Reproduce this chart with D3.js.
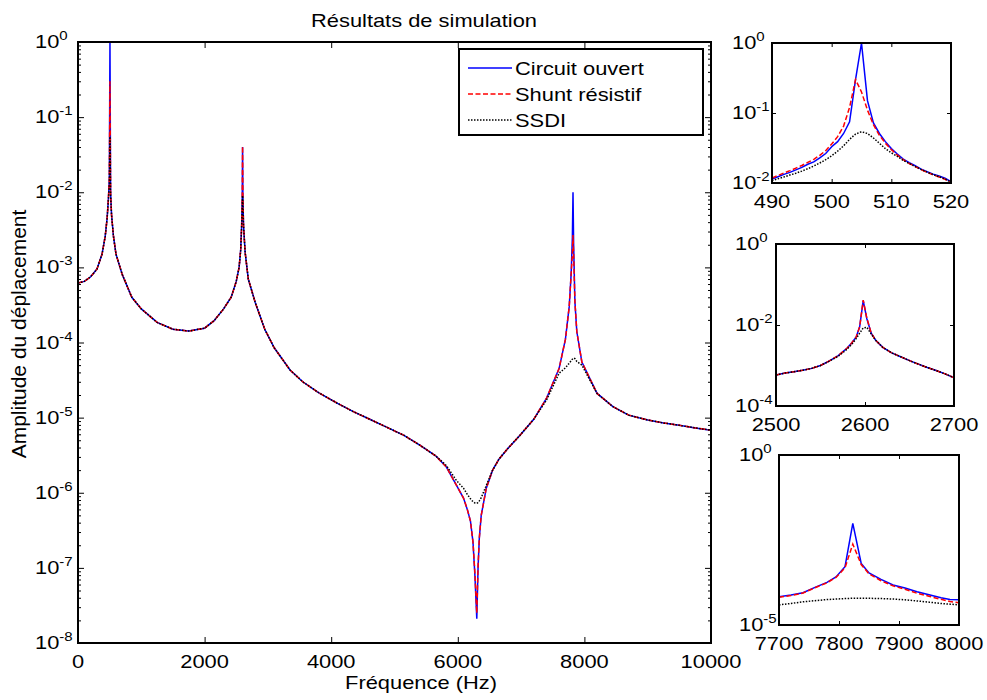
<!DOCTYPE html>
<html>
<head>
<meta charset="utf-8">
<script src="https://cdn.jsdelivr.net/npm/d3@7"></script>
<style>
body { margin: 0; background: #fff; }
text { font-family: "Liberation Sans", Arial, sans-serif; fill: #000; }
</style>
</head>
<body>
<svg id="chart" width="987" height="700"></svg>
<script>
// ---- data ----
var seriesNames = ["Circuit ouvert", "Shunt résistif", "SSDI"];

var mainFreq = [0,100,200,300,380,430,460,480,495,505,515,530,560,600,700,850,1000,1250,1500,1750,2000,2150,2300,2420,2500,2545,2570,2585,2595,2600,2605,2615,2640,2690,2800,2950,3100,3350,3550,3800,4100,4350,4600,4900,5150,5400,5650,5820,5980,6090,6150,6200,6240,6270,6300,6320,6340,6370,6450,6550,6650,6780,6980,7200,7400,7600,7700,7760,7790,7810,7820,7830,7850,7880,7960,8200,8450,8700,9000,9250,9500,9750,10000];
var mainOpen = [6.2e-4,6.5e-4,7.5e-4,9.5e-4,1.5e-3,2.6e-3,4.5e-3,8e-3,1.5e-2,1.0,1.0e-2,5e-3,2.6e-3,1.5e-3,8e-4,4e-4,2.8e-4,1.85e-4,1.5e-4,1.42e-4,1.55e-4,1.95e-4,2.8e-4,4.0e-4,6.5e-4,1.0e-3,1.7e-3,3.5e-3,9e-3,0.04,9e-3,3.6e-3,1.6e-3,7e-4,3.4e-4,1.5e-4,8.5e-5,4.3e-5,3.0e-5,2.15e-5,1.55e-5,1.2e-5,9.6e-6,7.3e-6,5.8e-6,4.3e-6,3.1e-6,2.2e-6,1.25e-6,8.5e-7,6e-7,4.2e-7,2.2e-7,8e-8,2.1e-8,1e-7,2.5e-7,5e-7,1.15e-6,2.0e-6,2.8e-6,3.8e-6,5.8e-6,9.5e-6,1.8e-5,4.5e-5,1.1e-4,3e-4,8e-4,2.5e-3,1.0e-2,2e-3,3.5e-4,1.4e-4,5.5e-5,2.1e-5,1.4e-5,1.08e-5,9.3e-6,8.5e-6,7.9e-6,7.3e-6,6.8e-6];
var mainShunt = [6.2e-4,6.5e-4,7.5e-4,9.5e-4,1.5e-3,2.6e-3,4.5e-3,8e-3,1.5e-2,0.3,1.0e-2,5e-3,2.6e-3,1.5e-3,8e-4,4e-4,2.8e-4,1.85e-4,1.5e-4,1.42e-4,1.55e-4,1.95e-4,2.8e-4,4.0e-4,6.5e-4,1.0e-3,1.7e-3,3.5e-3,9e-3,0.041,9e-3,3.6e-3,1.6e-3,7e-4,3.4e-4,1.5e-4,8.5e-5,4.3e-5,3.0e-5,2.15e-5,1.55e-5,1.2e-5,9.6e-6,7.3e-6,5.8e-6,4.3e-6,3.1e-6,2.2e-6,1.25e-6,8.5e-7,6e-7,4.2e-7,2.2e-7,8.5e-8,2.5e-8,1.05e-7,2.5e-7,5e-7,1.15e-6,2.0e-6,2.8e-6,3.8e-6,5.8e-6,9.5e-6,1.8e-5,4.5e-5,1.1e-4,3e-4,8e-4,1.5e-3,2.7e-3,1.5e-3,3.5e-4,1.4e-4,5.5e-5,2.1e-5,1.4e-5,1.08e-5,9.3e-6,8.5e-6,7.9e-6,7.3e-6,6.8e-6];
var mainSsdi = [6.2e-4,6.5e-4,7.5e-4,9.5e-4,1.5e-3,2.6e-3,4.5e-3,8e-3,1.3e-2,0.055,9e-3,5e-3,2.6e-3,1.5e-3,8e-4,4e-4,2.8e-4,1.85e-4,1.5e-4,1.42e-4,1.55e-4,1.95e-4,2.8e-4,4.0e-4,6.5e-4,1.0e-3,1.7e-3,3.5e-3,6e-3,9e-3,6.5e-3,3.6e-3,1.6e-3,7e-4,3.4e-4,1.5e-4,8.5e-5,4.3e-5,3.0e-5,2.15e-5,1.55e-5,1.2e-5,9.6e-6,7.3e-6,5.8e-6,4.3e-6,3.1e-6,2.3e-6,1.45e-6,1.15e-6,9.5e-7,8.3e-7,7.6e-7,7.3e-7,7.2e-7,7.4e-7,7.8e-7,8.6e-7,1.25e-6,2.0e-6,2.8e-6,3.8e-6,5.8e-6,9.5e-6,1.7e-5,3.9e-5,4.6e-5,5.3e-5,5.7e-5,6e-5,6.1e-5,6.2e-5,6.1e-5,5.6e-5,5.0e-5,2.1e-5,1.4e-5,1.08e-5,9.3e-6,8.5e-6,7.9e-6,7.3e-6,6.8e-6];
var mainXTicks = [0,2000,4000,6000,8000,10000];
var mainYTicks = [1,1e-1,1e-2,1e-3,1e-4,1e-5,1e-6,1e-7,1e-8];

var in1Freq = [490,491,492,493,494,495,496,497,498,499,500,501,502,503,504,505,506,507,508,509,510,511,512,513,514,515,516,517,518,519,520];
var in1Open = [0.0114,0.0123,0.0133,0.0142,0.0154,0.0167,0.0185,0.020,0.0228,0.0264,0.033,0.039,0.051,0.075,0.30,1.0,0.15,0.072,0.051,0.039,0.031,0.026,0.022,0.0195,0.0177,0.0158,0.0145,0.0134,0.0126,0.0117,0.0105];
var in1Shunt = [0.0118,0.0128,0.0139,0.015,0.0163,0.0178,0.0197,0.0218,0.0248,0.029,0.036,0.046,0.065,0.12,0.30,0.20,0.11,0.068,0.048,0.037,0.030,0.025,0.0215,0.019,0.0172,0.0155,0.0142,0.0131,0.0122,0.0113,0.0102];
var in1Ssdi = [0.0108,0.0115,0.0122,0.013,0.0138,0.0148,0.016,0.0175,0.0193,0.0215,0.0245,0.0285,0.034,0.042,0.05,0.054,0.051,0.044,0.037,0.031,0.027,0.024,0.021,0.019,0.0172,0.0156,0.0143,0.0132,0.0123,0.0114,0.0103];
var in1XTicks = [490,500,510,520];
var in1YTicks = [1,1e-1,1e-2];

var in2Freq = [2500,2510,2520,2530,2540,2550,2560,2570,2580,2585,2590,2594,2598,2602,2607,2612,2620,2630,2640,2650,2660,2670,2680,2690,2700];
var in2Open = [5.8e-4,6.5e-4,7.0e-4,7.6e-4,8.5e-4,1.0e-3,1.3e-3,1.75e-3,2.7e-3,3.6e-3,5.0e-3,9.0e-3,4.0e-2,1.45e-2,6.3e-3,4.2e-3,2.8e-3,2.05e-3,1.65e-3,1.32e-3,1.08e-3,8.9e-4,7.5e-4,6.2e-4,5.0e-4];
var in2Shunt = [5.8e-4,6.5e-4,7.0e-4,7.6e-4,8.5e-4,1.0e-3,1.3e-3,1.75e-3,2.7e-3,3.6e-3,5.0e-3,9.0e-3,4.1e-2,1.5e-2,6.3e-3,4.2e-3,2.8e-3,2.05e-3,1.65e-3,1.32e-3,1.08e-3,8.9e-4,7.5e-4,6.2e-4,5.0e-4];
var in2Ssdi = [5.8e-4,6.5e-4,7.0e-4,7.6e-4,8.5e-4,1.0e-3,1.28e-3,1.7e-3,2.55e-3,3.3e-3,4.6e-3,6.3e-3,8.5e-3,8.8e-3,6.0e-3,4.2e-3,2.8e-3,2.05e-3,1.65e-3,1.32e-3,1.08e-3,8.9e-4,7.5e-4,6.2e-4,5.0e-4];
var in2XTicks = [2500,2600,2700];
var in2YTicks = [1,1e-2,1e-4];

var in3Freq = [7700,7720,7740,7760,7780,7795,7810,7823,7837,7850,7870,7890,7910,7930,7950,7970,7985,8000];
var in3Open = [6.8e-5,7.6e-5,8.9e-5,1.28e-4,1.8e-4,2.6e-4,5.2e-4,9.8e-3,6.5e-4,3.4e-4,2.2e-4,1.5e-4,1.22e-4,9.5e-5,7.8e-5,6.3e-5,5.6e-5,5.5e-5];
var in3Shunt = [6.5e-5,7.4e-5,8.7e-5,1.25e-4,1.75e-4,2.5e-4,4.8e-4,2.4e-3,6.0e-4,3.2e-4,2.0e-4,1.42e-4,1.12e-4,8.6e-5,7.0e-5,5.7e-5,4.9e-5,4.5e-5];
var in3Ssdi = [3.9e-5,4.3e-5,4.8e-5,5.2e-5,5.6e-5,5.8e-5,6.0e-5,6.1e-5,6.1e-5,6.1e-5,6.0e-5,5.8e-5,5.5e-5,5.1e-5,4.7e-5,4.3e-5,4.1e-5,3.9e-5];
var in3XTicks = [7700,7800,7900,8000];
var in3YTicks = [1,1e-5];

// ---- drawing ----
var SX = 1.25;   // the reference text is stretched sideways
var FS = 17.5;
var svg = d3.select("#chart");
svg.append("rect").attr("width", 987).attr("height", 700).attr("fill", "#fff");

var styles = [
	{color: "#0000ff", dash: null},
	{color: "#ff0000", dash: "5,2.5"},
	{color: "#000000", dash: "1.5,1.5"}
];

function putText(sel, x, y, str, anchor, rot, sx, fs) {
	var t = sel.append("text")
		.attr("transform", "translate(" + x + "," + y + ") scale(" + (sx || SX) + ",1)" + (rot ? " rotate(" + rot + ")" : ""))
		.attr("text-anchor", anchor || "start")
		.style("font-size", (fs || FS) + "px")
		.text(str);
	return t;
}

var clipCount = 0;
function drawPanel(p) {
	var g = svg.append("g");
	var x = d3.scaleLinear().domain(p.xDomain).range([p.left, p.right]);
	var y = d3.scaleLog().domain(p.yDomain).range([p.bottom, p.top]);

	var id = "clip" + (clipCount++);
	svg.append("clipPath").attr("id", id).append("rect")
		.attr("x", p.left).attr("y", p.top - 1)
		.attr("width", p.right - p.left).attr("height", p.bottom - p.top + 2);

	var line = d3.line()
		.x(function(d) { return x(d[0]); })
		.y(function(d) { return y(d[1]); });

	var lines = g.append("g").attr("clip-path", "url(#" + id + ")");
	p.series.forEach(function(vals, i) {
		var pts = p.freq.map(function(f, k) { return [f, vals[k]]; });
		lines.append("path")
			.attr("d", line(pts))
			.attr("fill", "none")
			.attr("stroke", styles[i].color)
			.attr("stroke-width", 1.5)
			.attr("stroke-dasharray", styles[i].dash);
	});

	// inward ticks on all four sides
	var tl = p.tick || 6;
	var axes = [
		[d3.axisBottom(x).tickValues(p.xTicks), "translate(0," + p.bottom + ")"],
		[d3.axisTop(x).tickValues(p.xTicks), "translate(0," + p.top + ")"],
		[d3.axisLeft(y).tickValues(p.yTicks), "translate(" + p.left + ",0)"],
		[d3.axisRight(y).tickValues(p.yTicks), "translate(" + p.right + ",0)"]
	];
	axes.forEach(function(a) {
		var ag = g.append("g").attr("transform", a[1])
			.call(a[0].tickSize(-tl).tickFormat(""));
		ag.select(".domain").remove();
	});
	if (p.minor) {
		var minor = y.ticks().filter(function(v) {
			return Math.abs(Math.log10(v) - Math.round(Math.log10(v))) > 1e-6;
		});
		[[d3.axisLeft(y), p.left], [d3.axisRight(y), p.right]].forEach(function(a) {
			var ag = g.append("g").attr("transform", "translate(" + a[1] + ",0)")
				.call(a[0].tickValues(minor).tickSize(-3).tickFormat(""));
			ag.select(".domain").remove();
		});
	}

	g.append("rect")
		.attr("x", p.left).attr("y", p.top)
		.attr("width", p.right - p.left).attr("height", p.bottom - p.top)
		.attr("fill", "none").attr("stroke", "#000").attr("stroke-width", 2);

	// tick labels
	p.xTicks.forEach(function(v) {
		putText(g, x(v), p.bottom + 25, String(v), "middle");
	});
	p.yTicks.forEach(function(v) {
		var t = putText(g, p.left - p.labelOff, y(v) + 6, "10", "start");
		t.append("tspan")
			.attr("dy", -8)
			.style("font-size", "12px")
			.text(String(Math.round(Math.log10(v))));
	});
	return {x: x, y: y, g: g};
}

drawPanel({
	left: 78, right: 711, top: 42, bottom: 643,
	xDomain: [0, 10000], yDomain: [1e-8, 1],
	xTicks: mainXTicks, yTicks: mainYTicks, minor: true, labelOff: 43,
	freq: mainFreq, series: [mainOpen, mainShunt, mainSsdi]
});
drawPanel({
	left: 772, right: 951, top: 43, bottom: 183,
	xDomain: [490, 520], yDomain: [1e-2, 1],
	xTicks: in1XTicks, yTicks: in1YTicks, labelOff: 40, tick: 4,
	freq: in1Freq, series: [in1Open, in1Shunt, in1Ssdi]
});
drawPanel({
	left: 776, right: 954, top: 244, bottom: 406,
	xDomain: [2500, 2700], yDomain: [1e-4, 1],
	xTicks: in2XTicks, yTicks: in2YTicks, labelOff: 41, tick: 4,
	freq: in2Freq, series: [in2Open, in2Shunt, in2Ssdi]
});
drawPanel({
	left: 779, right: 959, top: 455, bottom: 625,
	xDomain: [7700, 8000], yDomain: [1e-5, 1],
	xTicks: in3XTicks, yTicks: in3YTicks, labelOff: 40, tick: 4,
	freq: in3Freq, series: [in3Open, in3Shunt, in3Ssdi]
});

// titles
putText(svg, 424, 27, "Résultats de simulation", "middle");
putText(svg, 421, 689, "Fréquence (Hz)", "middle");
putText(svg, 26, 334, "Amplitude du déplacement", "middle", -90, 1.0, 21);

// legend
var leg = svg.append("g");
leg.append("rect")
	.attr("x", 459).attr("y", 49).attr("width", 244).attr("height", 86)
	.attr("fill", "#fff").attr("stroke", "#000").attr("stroke-width", 2);
seriesNames.forEach(function(name, i) {
	var yy = 68 + i * 26;
	leg.append("line")
		.attr("x1", 468).attr("x2", 512).attr("y1", yy).attr("y2", yy)
		.attr("stroke", styles[i].color).attr("stroke-width", 1.5)
		.attr("stroke-dasharray", styles[i].dash);
	putText(leg, 515, yy + 7, name, "start");
});
</script>
</body>
</html>
